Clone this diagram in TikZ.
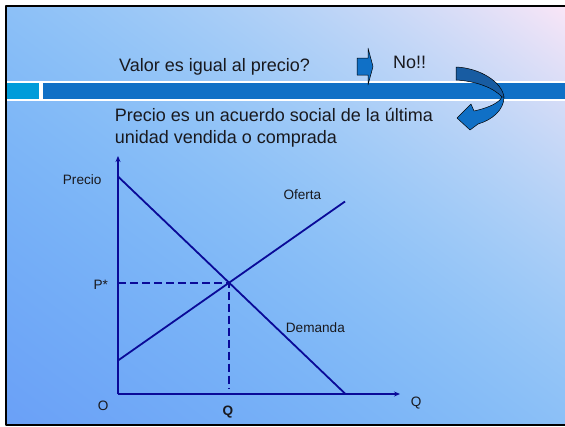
\documentclass[tikz,border=0pt]{standalone}
\usepackage{fontspec}
\setmainfont{Liberation Sans}
\usetikzlibrary{arrows.meta}
\definecolor{ejes}{RGB}{10,10,152}
\definecolor{texto}{RGB}{25,25,30}
\definecolor{cian}{RGB}{0,156,218}
\definecolor{azul}{RGB}{16,112,198}
\definecolor{azuloscuro}{RGB}{24,92,162}
% diagonal background: blue (lower left) to pink (upper right)
\pgfdeclarefunctionalshading{fondo}{\pgfpoint{0bp}{0bp}}{\pgfpoint{100bp}{100bp}}{}{
  add 50 sub 100 div
  dup 0 lt {pop 0} if dup 1 gt {pop 1} if
  dup dup dup mul mul
  2 copy 102.7 mul exch 42.3 mul add 106 add 255 div
  3 1 roll
  8 mul exch 62 mul add 160 add 255 div
  0.97
}
\begin{document}
\begin{tikzpicture}[x=1pt, y=-1pt, line join=round, >={Stealth[length=6pt,width=5pt]},
  txt/.style={inner sep=0pt, anchor=base west, text=texto},
  lbl/.style={txt, font=\fontsize{13.6}{16}\selectfont},
  big/.style={txt, font=\fontsize{18}{22}\selectfont},
  curva/.style={draw=ejes, line width=1.8pt},
  flecha/.style={draw=black, line width=.5pt}]
\useasboundingbox (0,0) rectangle (565,426);
\clip (0,0) rectangle (565,426);
\shade[shading=fondo] (6,6) rectangle (570,425);
\draw[line width=2pt] (570,6) -- (6,6) -- (6,425) -- (570,425);
\fill[white] (7,81) rectangle (565,101);
\fill[cian] (7,83) rectangle (38.5,99);
\fill[azul] (42.5,83) rectangle (565,99);
\node[big] (pregunta) at (119,71.7) {Valor es igual al precio?};
\node[big] (no) at (393,68.3) {No!!};
\node[big] (def1) at (114.6,121.7) {Precio es un acuerdo social de la última};
\node[big] (def2) at (114.6,143.3) {unidad vendida o comprada};
\filldraw[fill=azul, flecha] (357,58) -- (368,58) -- (368,48) -- (373,66.5) -- (368,85) -- (368,75) -- (357,75) -- cycle;
\filldraw[fill=azuloscuro, flecha] (456,67) .. controls (480,68) and (502,82) .. (504,97)
  -- (502,97) .. controls (494,88) and (476,81) .. (456,80) -- cycle;
\filldraw[fill=azul, flecha] (504,97) .. controls (504,110) and (492,120) .. (478,124)
  -- (470,130) -- (457,118) -- (471,104) -- (474,111) .. controls (488,108) and (499,103) .. (502,97) -- cycle;
\coordinate (O) at (118,394);
\coordinate (ytop) at (118,156);
\coordinate (xend) at (400,394);
\coordinate (D1) at (118,176.5);
\coordinate (D2) at (345.5,394);
\coordinate (S1) at (118,360.5);
\coordinate (S2) at (345,201.5);
\coordinate (E) at (intersection of D1--D2 and S1--S2);
\coordinate (Qd) at (E |- 0,389);
\draw[curva, ->] (O) -- (ytop);
\draw[curva, ->] (O) -- (xend);
\draw[curva] (D1) -- (D2);
\draw[curva] (S1) -- (S2);
\draw[curva, dash pattern=on 8pt off 4pt] (E -| O) -- (E) -- (Qd);
\node[lbl] (precio) at (62.7,184.3) {Precio};
\node[lbl] (oferta) at (283.3,199.3) {Oferta};
\node[lbl] (pstar) at (93.3,289.3) {P*};
\node[lbl] (demanda) at (285.7,332.7) {Demanda};
\node[lbl] (origen) at (97.7,410) {O};
\node[lbl, anchor=base] (qstar) at (228,415) {\bfseries Q};
\node[lbl] (qeje) at (410.7,406) {Q};
\end{tikzpicture}
\end{document}
